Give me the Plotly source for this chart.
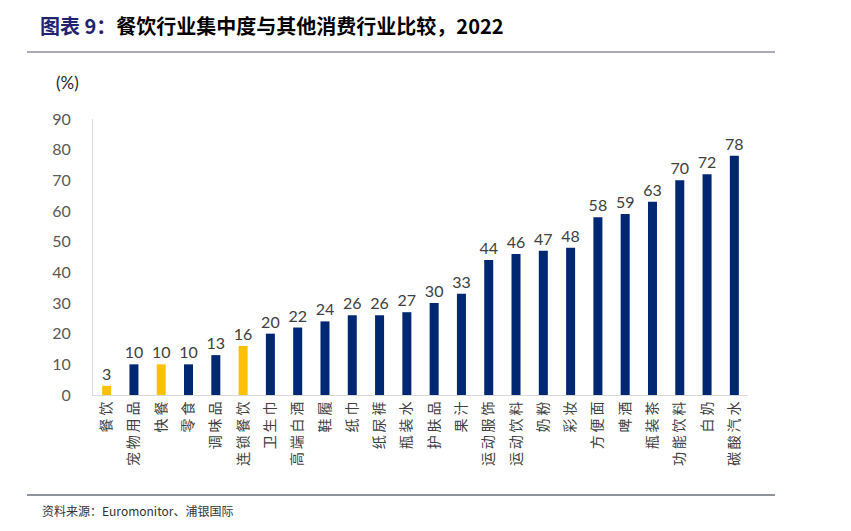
import plotly.graph_objects as go

categories = ["餐饮", "宠物用品", "快餐", "零食", "调味品", "连锁餐饮", "卫生巾", "高端白酒",
              "鞋履", "纸巾", "纸尿裤", "瓶装水", "护肤品", "果汁", "运动服饰", "运动饮料",
              "奶粉", "彩妆", "方便面", "啤酒", "瓶装茶", "功能饮料", "白奶", "碳酸汽水"]
values = [3, 10, 10, 10, 13, 16, 20, 22, 24, 26, 26, 27, 30, 33, 44, 46, 47, 48, 58, 59, 63, 70, 72, 78]
highlight = ["餐饮", "快餐", "连锁餐饮"]
y_ticks = [0, 10, 20, 30, 40, 50, 60, 70, 80, 90]

NAVY = "#002872"
GOLD = "#FFC000"
colors = [GOLD if c in highlight else NAVY for c in categories]
tick_text = ["\u2009".join(list(c)) for c in categories]

OFF = 8  # page body margin offset
W, H = 851 - OFF, 531 - OFF

fig = go.Figure(go.Bar(
    x=categories, y=values, marker=dict(color=colors, line=dict(width=0)),
    text=[str(v) for v in values], textposition="outside", cliponaxis=False,
    constraintext="none",
    textfont=dict(family="Lato, Open Sans", size=16, color="#404040"),
))

# plot area geometry (screen px -> figure px)
L, R, T, B = 93 - OFF, 748 - OFF, 119 - OFF, 395 - OFF
def px(x): return (x - OFF - L) / (R - L)
def py(y): return (B - (y - OFF)) / (B - T)

fig.update_layout(
    width=W, height=H,
    margin=dict(l=L, r=W - R, t=T, b=H - B, autoexpand=False),
    plot_bgcolor="white", paper_bgcolor="white",
    bargap=0.67, showlegend=False,
    xaxis=dict(tickangle=-90, showline=True, linecolor="#D9D9D9", linewidth=1,
               ticks="", tickvals=categories, ticktext=tick_text,
               tickfont=dict(family="Noto Sans CJK SC", size=14, color="#404040"),
               showgrid=False),
    yaxis=dict(range=[0, 90], tickvals=y_ticks, showline=True, linecolor="#D9D9D9",
               linewidth=1, showgrid=False, zeroline=False, ticks="",
               ticklabelstandoff=18,
               tickfont=dict(family="Lato, Open Sans", size=16, color="#595959")),
    shapes=[
        dict(type="line", xref="paper", yref="paper", x0=px(27), x1=px(775), y0=py(52), y1=py(52),
             line=dict(color="#5A5470", width=1.2)),
        dict(type="line", xref="paper", yref="paper", x0=px(27), x1=px(775), y0=py(495), y1=py(495),
             line=dict(color="#1F2D3D", width=1.2)),
    ],
    annotations=[
        dict(xref="paper", yref="paper", x=px(38), y=py(25), xanchor="left", yanchor="middle",
             showarrow=False,
             text="<b><span style='color:#1F2370'>图表 9：</span>餐饮行业集中度与其他消费行业比较，2022</b>",
             font=dict(family="Noto Sans CJK SC", size=20, color="#000000")),
        dict(xref="paper", yref="paper", x=px(67), y=py(82), xanchor="center", yanchor="middle",
             showarrow=False, text="(%)",
             font=dict(family="Lato, Open Sans", size=17, color="#262626")),
        dict(xref="paper", yref="paper", x=px(40), y=py(510), xanchor="left", yanchor="middle",
             showarrow=False, text="资料来源：Euromonitor、浦银国际",
             font=dict(family="Noto Sans CJK SC", size=12, color="#333333")),
    ],
)

fig.write_html("out.html")
